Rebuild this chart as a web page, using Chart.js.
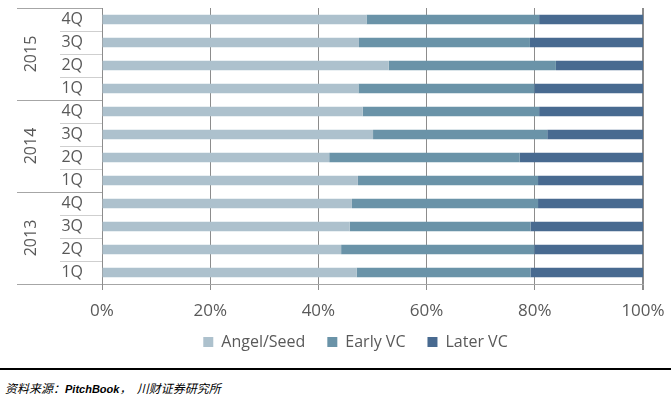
<!DOCTYPE html>
<html>
<head>
<meta charset="utf-8">
<script src="https://cdn.jsdelivr.net/npm/chart.js@4"></script>
<style>
  body { margin: 0; background: #fff; }
  #wrap { position: relative; width: 671px; height: 399px; }
  #chart { position: absolute; left: 0; top: 0; }
  #rule { position: absolute; left: 0; top: 368px; width: 671px; height: 2px; background: #000; }
  #src { position: absolute; left: 5px; top: 379px; font: italic 12px "Noto Sans CJK SC", sans-serif; color: #000; white-space: pre; }
  #src b { font: italic bold 11px "Liberation Sans", sans-serif; }
</style>
</head>
<body>
<div id="wrap">
  <canvas id="chart" width="671" height="371"></canvas>
  <div id="rule"></div>
  <div id="src">资料来源：<b>PitchBook</b>，  川财证券研究所</div>
</div>
<script>
// categories, top to bottom
const quarters = ["4Q", "3Q", "2Q", "1Q", "4Q", "3Q", "2Q", "1Q", "4Q", "3Q", "2Q", "1Q"];
const years = ["2015", "2014", "2013"];

// share of deal count, %
const angelSeed = [48.9, 47.5, 53.0, 47.4, 48.2, 50.1, 42.0, 47.3, 46.2, 45.8, 44.2, 47.1];
const earlyVC = [31.9, 31.6, 30.9, 32.5, 32.6, 32.2, 35.2, 33.3, 34.4, 33.4, 35.7, 32.1];
const laterVC = [19.2, 20.9, 16.1, 20.1, 19.2, 17.7, 22.8, 19.4, 19.4, 20.8, 20.1, 20.8];

const FONT = "'Open Sans', 'Noto Sans', sans-serif";
const TEXT = "#595959";

// separators and year labels on the left side
const groupLines = {
  id: "groupLines",
  afterLayout(chart) {
    // legend sits a bit right of centre and closer to the axis, like the original
    const lg = chart.legend;
    lg.left += 34;
    lg.right += 34;
    lg.top -= 9;
    lg.bottom -= 9;
  },
  afterDraw(chart) {
    const ctx = chart.ctx;
    const y = chart.scales.y;
    const area = chart.chartArea;
    const step = (area.bottom - area.top) / quarters.length;
    ctx.save();
    for (let i = 0; i <= quarters.length; i++) {
      const yy = Math.round(area.top + i * step) + 0.5;
      const big = i % 4 === 0;
      ctx.strokeStyle = big ? "#a6a6a6" : "#cfcfcf";
      ctx.lineWidth = 1;
      ctx.beginPath();
      ctx.moveTo(big ? 17 : 60, yy);
      ctx.lineTo(area.left, yy);
      ctx.stroke();
    }
    ctx.fillStyle = TEXT;
    ctx.font = "16px " + FONT;
    ctx.textAlign = "center";
    ctx.textBaseline = "middle";
    years.forEach((yr, g) => {
      const mid = (y.getPixelForValue(g * 4) + y.getPixelForValue(g * 4 + 3)) / 2;
      ctx.save();
      ctx.translate(31, mid);
      ctx.rotate(-Math.PI / 2);
      ctx.fillText(yr, 0, 0);
      ctx.restore();
    });
    ctx.restore();
  }
};

new Chart(document.getElementById("chart"), {
  type: "bar",
  data: {
    labels: quarters,
    datasets: [
      { label: "Angel/Seed", data: angelSeed, backgroundColor: "#adc1cd" },
      { label: "Early VC", data: earlyVC, backgroundColor: "#6a93a8" },
      { label: "Later VC", data: laterVC, backgroundColor: "#486a90" }
    ]
  },
  options: {
    indexAxis: "y",
    responsive: false,
    animation: false,
    devicePixelRatio: 1,
    layout: { padding: { left: 0, right: 28, top: 8, bottom: 2 } },
    datasets: { bar: { categoryPercentage: 1, barPercentage: 0.41 } },
    scales: {
      x: {
        stacked: true,
        min: 0,
        max: 100,
        ticks: {
          stepSize: 20,
          callback: v => v + "%",
          color: TEXT,
          font: { family: FONT, size: 17 },
          padding: 11
        },
        grid: {
          color: "#8c8c8c",
          lineWidth: c => (c.tick && c.tick.value === 100 ? 2 : 1),
          tickLength: 6
        },
        border: { color: "#a6a6a6" },
        afterFit: s => { s.height = 37; s.paddingRight = 0; s.paddingLeft = 0; }
      },
      y: {
        stacked: true,
        ticks: {
          color: TEXT,
          font: { family: FONT, size: 16 },
          padding: 19,
          autoSkip: false
        },
        grid: { display: false, drawTicks: false },
        border: { color: "#8c8c8c" },
        afterFit: s => { s.width = 102; s.paddingTop = 0; s.paddingBottom = 0; }
      }
    },
    plugins: {
      legend: {
        position: "bottom",
        labels: {
          boxWidth: 10,
          boxHeight: 10,
          padding: 22,
          color: TEXT,
          font: { family: FONT, size: 16 }
        }
      },
      tooltip: { enabled: false }
    }
  },
  plugins: [groupLines]
});
</script>
</body>
</html>
